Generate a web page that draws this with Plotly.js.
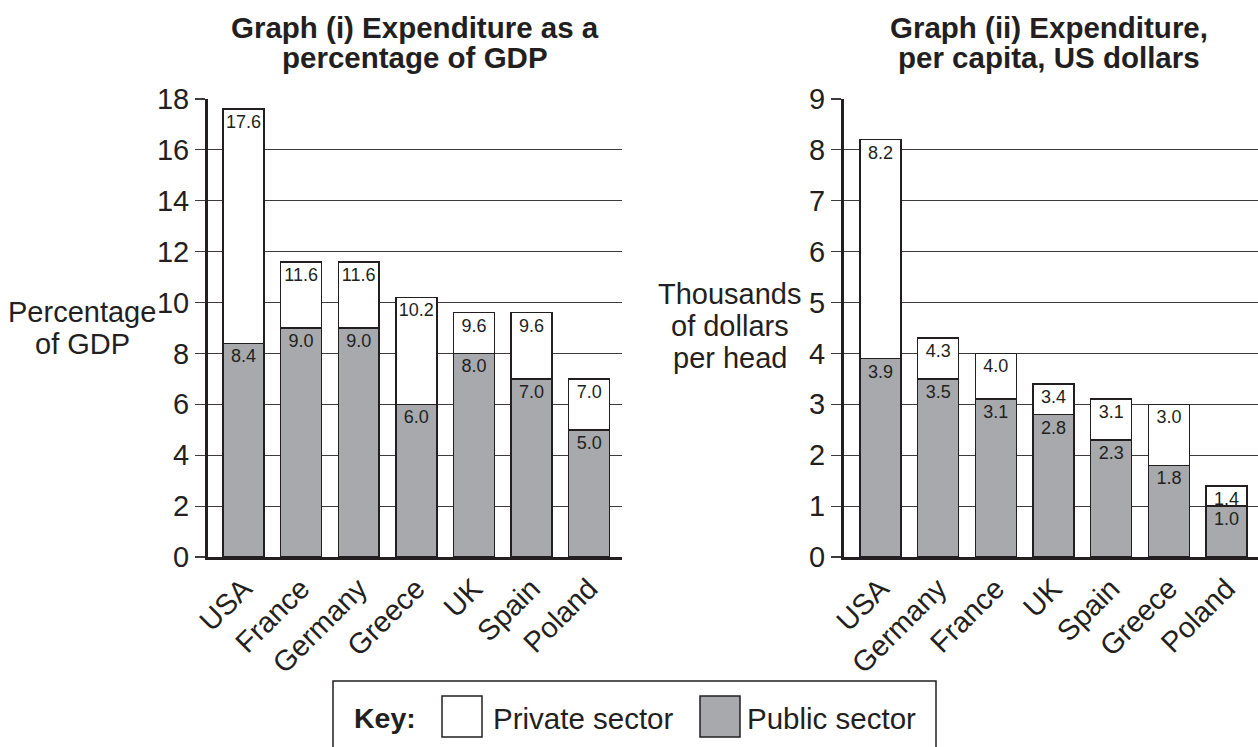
<!DOCTYPE html>
<html>
<head>
<meta charset="utf-8">
<script src="https://cdn.plot.ly/plotly-3.0.1.min.js"></script>
<style>
  html, body { margin: 0; padding: 0; background: #ffffff; }
  #chart { width: 1258px; height: 747px; }
</style>
</head>
<body>
<div id="chart"></div>
<script>
// ---- Data ----
const countries1 = ['USA', 'France', 'Germany', 'Greece', 'UK', 'Spain', 'Poland'];
const public1 = [8.4, 9.0, 9.0, 6.0, 8.0, 7.0, 5.0];
const total1 = [17.6, 11.6, 11.6, 10.2, 9.6, 9.6, 7.0];

const countries2 = ['USA', 'Germany', 'France', 'UK', 'Spain', 'Greece', 'Poland'];
const public2 = [3.9, 3.5, 3.1, 2.8, 2.3, 1.8, 1.0];
const total2 = [8.2, 4.3, 4.0, 3.4, 3.1, 3.0, 1.4];

const title1Lines = ['Graph (i) Expenditure as a', 'percentage of GDP'];
const title2Lines = ['Graph (ii) Expenditure,', 'per capita, US dollars'];
const ytitle1Lines = ['Percentage', 'of GDP'];
const ytitle2Lines = ['Thousands', 'of dollars', 'per head'];
const keyLabel = 'Key:';
const privateLabel = 'Private sector';
const publicLabel = 'Public sector';

// ---- Style ----
const W = 1258, H = 747;
const FONT = "'Liberation Sans', Arial, Helvetica, sans-serif";
const INK = '#231f20';
const GRAY = '#a7a9ac';
const GRID = '#3c3c3c';
const px = v => v / W;
const py = v => 1 - v / H;

function barPair(cats, pub, tot, xa, ya) {
  const common = {
    type: 'bar', x: cats, xaxis: xa, yaxis: ya, width: 0.71,
    textposition: 'inside', insidetextanchor: 'end', textangle: 0,
    constraintext: 'none',
    textfont: { family: FONT, size: 18, color: INK },
    hoverinfo: 'x+text', showlegend: false, cliponaxis: false
  };
  // private sector segment sits on top of the public one; it is labelled with the total
  const privatePart = tot.map((t, i) => t - pub[i]);
  return [
    Object.assign({}, common, {
      name: publicLabel, y: pub, text: pub, texttemplate: '%{text:.1f}',
      marker: { color: GRAY, line: { color: INK, width: 1.5 } }
    }),
    Object.assign({}, common, {
      name: privateLabel, y: privatePart, text: tot, texttemplate: '%{text:.1f}',
      marker: { color: '#ffffff', line: { color: INK, width: 1.5 } }
    })
  ];
}

const data = [
  ...barPair(countries1, public1, total1, 'x', 'y'),
  ...barPair(countries2, public2, total2, 'x2', 'y2')
];

const tickFont = { family: FONT, size: 29, color: INK };

function xAxis(domain, range, anchor) {
  return {
    domain: domain, range: range, anchor: anchor, type: 'category',
    showline: true, linewidth: 3, linecolor: INK, ticks: '',
    tickangle: -45, tickfont: tickFont, showgrid: false, zeroline: false,
    fixedrange: true
  };
}
function yAxis(range, dtick, anchor) {
  return {
    domain: [1 - 557 / H, 1 - 99 / H], range: range, dtick: dtick, anchor: anchor,
    showline: true, linewidth: 3, linecolor: INK,
    ticks: 'outside', ticklen: 10, tickwidth: 1.2, tickcolor: GRID,
    tickfont: tickFont, showgrid: true, gridcolor: GRID, gridwidth: 1.2,
    zeroline: false, fixedrange: true
  };
}

const annotations = [];
function textLine(text, x, y, size, bold, anchor) {
  annotations.push({
    text: bold ? '<b>' + text + '</b>' : text,
    xref: 'paper', yref: 'paper', x: px(x), y: py(y),
    xanchor: anchor || 'center', yanchor: 'middle', showarrow: false,
    font: { family: FONT, size: size, color: INK }
  });
}
// titles
const titleY = [27, 58];
title1Lines.forEach((t, i) => textLine(t, 415, titleY[i], 29.5, true));
title2Lines.forEach((t, i) => textLine(t, 1049, titleY[i], 29.5, true));
// y-axis titles
const yt1Y = [312, 344];
ytitle1Lines.forEach((t, i) => textLine(t, 82, yt1Y[i], 29, false));
const yt2Y = [294, 326, 358];
ytitle2Lines.forEach((t, i) => textLine(t, 730, yt2Y[i], 29, false));
// key
textLine(keyLabel, 352, 718, 28.5, true, 'left');
textLine(privateLabel, 491, 718, 29.5, false, 'left');
textLine(publicLabel, 745, 718, 29.5, false, 'left');

const shapes = [
  { type: 'rect', xref: 'paper', yref: 'paper', x0: px(333), x1: px(936), y0: py(800), y1: py(681),
    line: { color: INK, width: 1.5 }, fillcolor: 'rgba(0,0,0,0)' },
  { type: 'rect', xref: 'paper', yref: 'paper', x0: px(442), x1: px(482), y0: py(737), y1: py(696),
    line: { color: INK, width: 1.5 }, fillcolor: '#ffffff' },
  { type: 'rect', xref: 'paper', yref: 'paper', x0: px(700), x1: px(740), y0: py(737), y1: py(696),
    line: { color: INK, width: 1.5 }, fillcolor: GRAY }
];

const layout = {
  width: W, height: H,
  margin: { l: 0, r: 0, t: 0, b: 0, pad: 0 },
  paper_bgcolor: '#ffffff', plot_bgcolor: '#ffffff',
  barmode: 'stack', showlegend: false,
  font: { family: FONT, color: INK },
  xaxis: xAxis([208 / W, 622 / W], [-0.616, 6.57], 'y'),
  yaxis: yAxis([0, 18], 2, 'x'),
  xaxis2: xAxis([844 / W, 1], [-0.633, 6.545], 'y2'),
  yaxis2: yAxis([0, 9], 1, 'x2'),
  annotations: annotations,
  shapes: shapes
};

Plotly.newPlot('chart', data, layout, { displayModeBar: false, staticPlot: true });
</script>
</body>
</html>
